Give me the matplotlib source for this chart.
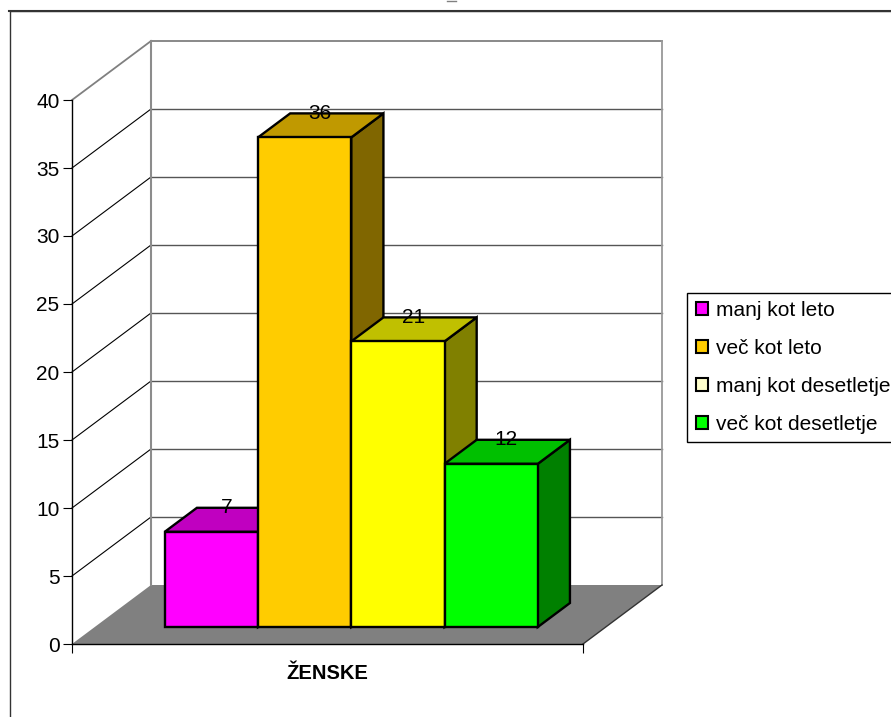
"""
3D look bar chart, one group (ZENSKE), drawn with polygons on a normal axes.
"""
import matplotlib
matplotlib.use("Agg")
import matplotlib.pyplot as plt
from matplotlib.patches import Patch, Polygon, Rectangle

plt.rcParams['font.family'] = ['Liberation Sans', 'DejaVu Sans']

category = 'ŽENSKE'
series_names = ['manj kot leto', 'več kot leto', 'manj kot desetletje', 'več kot desetletje']
series_values = [7, 36, 21, 12]
bar_colors = ['#FF00FF', '#FFCC00', '#FFFF00', '#00FF00']
top_colors = ['#C000C0', '#C09900', '#C0C000', '#00C000']
side_colors = ['#800080', '#806600', '#808000', '#008000']
legend_colors = ['#FF00FF', '#FFCC00', '#FFFFCC', '#00FF00']
y_ticks = [0, 5, 10, 15, 20, 25, 30, 35, 40]

W, H = 891, 717
# front plane of the plot in pixels
LEFT, RIGHT, BOTTOM, TOP = 72, 583, 644, 100
DEPTH_X = 79 / (RIGHT - LEFT)
DEPTH_Y = 59 / ((BOTTOM - TOP) / 40)

fig = plt.figure(figsize=(W / 100, H / 100), dpi=100)
ax = fig.add_axes([LEFT / W, 1 - BOTTOM / H, (RIGHT - LEFT) / W, (BOTTOM - TOP) / H])
ax.set_xlim(0, 1)
ax.set_ylim(0, 40)
ax.patch.set_visible(False)


def pt(x, y, d):
    # project a point with depth d (0 front, 1 back wall)
    return (x + d * DEPTH_X, y + d * DEPTH_Y)


def face(points, color, lw=1.7, ec='black', z=3):
    ax.add_patch(Polygon(points, closed=True, facecolor=color, edgecolor=ec, linewidth=lw,
                         joinstyle='miter', clip_on=False, zorder=z))


# floor
face([pt(0, 0, 0), pt(1, 0, 0), pt(1, 0, 1), pt(0, 0, 1)], '#808080', lw=0, ec='none', z=1)

# walls and grid
for v in y_ticks[1:]:
    top = v == 40
    col = '#808080' if top else '#555555'
    ax.plot([DEPTH_X, 1 + DEPTH_X], [v + DEPTH_Y] * 2, color=col, lw=1.3 if top else 1,
            clip_on=False, zorder=1)
    ax.plot([0, DEPTH_X], [v, v + DEPTH_Y], color=col if top else 'black', lw=1.3 if top else 0.8,
            clip_on=False, zorder=1)
ax.plot([DEPTH_X, DEPTH_X], [DEPTH_Y, 40 + DEPTH_Y], color='#8c8c8c', lw=1.5, clip_on=False, zorder=1)
ax.plot([1 + DEPTH_X, 1 + DEPTH_X], [DEPTH_Y, 40 + DEPTH_Y], color='#999999', lw=1.3, clip_on=False, zorder=1)
ax.plot([1, 1 + DEPTH_X], [0, DEPTH_Y], color='#333333', lw=1, clip_on=False, zorder=1)

# bars
bar_width = 0.1825
start = 0.137
d0, d1 = 0.288, 0.695
for i, val in enumerate(series_values):
    x0 = start + i * bar_width
    x1 = x0 + bar_width
    z = 3 + i * 0.1
    face([pt(x1, 0, d0), pt(x1, 0, d1), pt(x1, val, d1), pt(x1, val, d0)], side_colors[i], z=z)
    face([pt(x0, val, d0), pt(x1, val, d0), pt(x1, val, d1), pt(x0, val, d1)], top_colors[i], z=z)
    face([pt(x0, 0, d0), pt(x1, 0, d0), pt(x1, val, d0), pt(x0, val, d0)], bar_colors[i], z=z)

for i, val in enumerate(series_values):
    lx, ly = pt(start + (i + 0.5) * bar_width, val, 0.48)
    ax.text(lx, ly + 0.95, str(val), ha='center', va='center', fontsize=15, zorder=6)

# axes
for s in ['top', 'right']:
    ax.spines[s].set_visible(False)
ax.spines['left'].set_linewidth(1)
ax.spines['bottom'].set_linewidth(1)
ax.spines['left'].set_zorder(2)
ax.spines['bottom'].set_zorder(2)
ax.set_yticks(y_ticks)
ax.set_xticks([0, 1], ['', ''])
ax.tick_params(axis='y', length=6.5, width=0.8, labelsize=15, pad=2.5)
ax.tick_params(axis='x', length=6.5, width=0.8)
ax.set_xlabel(category, fontsize=14.5, fontweight='bold', labelpad=4.5)

# legend
handles = [Patch(facecolor=c, edgecolor='black', linewidth=1.5) for c in legend_colors]
leg = ax.legend(handles, series_names, loc='upper left',
                bbox_to_anchor=(687 / W, 1 - 292.5 / H), bbox_transform=fig.transFigure,
                fontsize=15, frameon=True, fancybox=False, framealpha=1, edgecolor='black',
                handlelength=0.58, handleheight=0.58, handletextpad=0.4, labelspacing=0.9,
                borderpad=0.42, borderaxespad=0)
leg.get_frame().set_linewidth(1)

# chart border, runs off the right and bottom of the picture
fig.add_artist(Rectangle((9.5 / W, -0.05), 1, 1.05 - 11 / H, transform=fig.transFigure,
                         facecolor='none', edgecolor='#333333', linewidth=1))
fig.add_artist(plt.Line2D([9 / W, 1], [1 - 11 / H] * 2, color='#333333', lw=1.5))
# bottom of the cut off title letter at the top edge
fig.add_artist(plt.Line2D([447 / W, 456 / W], [1 - 0.5 / H] * 2, color='#808080', lw=1))

fig.savefig('out.png', dpi=100)
